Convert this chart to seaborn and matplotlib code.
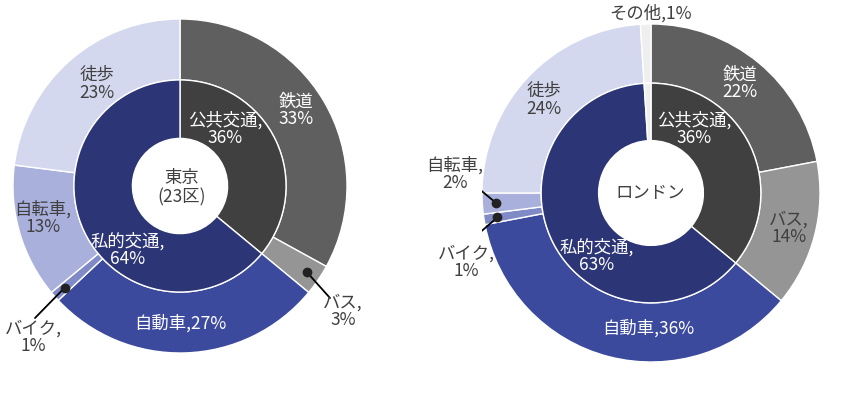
import numpy as np
import matplotlib.pyplot as plt
import seaborn as sns

sns.set_style('white')
plt.rcParams['font.family'] = ['Noto Sans CJK JP', 'DejaVu Sans']

# 東京(23区) の交通手段分担率
tokyo_inner_labels = ['公共交通', '私的交通']
tokyo_inner_values = [36, 64]
tokyo_outer_labels = ['鉄道', 'バス', '自動車', 'バイク', '自転車', '徒歩']
tokyo_outer_values = [33, 3, 27, 1, 13, 23]

# ロンドン
london_inner_labels = ['公共交通', '私的交通', 'その他']
london_inner_values = [36, 63, 1]
london_outer_labels = ['鉄道', 'バス', '自動車', 'バイク', '自転車', '徒歩', 'その他']
london_outer_values = [22, 14, 36, 1, 2, 24, 1]

colors = {
    '公共交通': '#404040', '私的交通': '#2c3576',
    '鉄道': '#5f5f5f', 'バス': '#959595', '自動車': '#3c4a9e',
    'バイク': '#7f8ac6', '自転車': '#a9b0dc', '徒歩': '#d4d8ee',
    'その他': '#efefef',
}
dark_text = '#404040'
white_labels = {'公共交通', '私的交通', '鉄道', '自動車'}
label_fmt = {'鉄道': '{}\n{}%', '徒歩': '{}\n{}%', '自動車': '{},{}%', 'その他': '{},{}%'}
FS = 12.5


def fmt(name, val):
    return label_fmt.get(name, '{},\n{}%').format(name, val)


def draw_city(ax, center, R, inner_r, inner_w, outer_w,
              inner_labels, inner_values, outer_labels, outer_values,
              title, label_px, leaders):
    cx, cy = center

    def px(x, y):
        return (x - cx) / R, (cy - y) / R

    wedges, _ = ax.pie(outer_values, radius=1.0, startangle=90, counterclock=False,
                       colors=[colors[n] for n in outer_labels],
                       wedgeprops=dict(width=outer_w, edgecolor='white', linewidth=1.0))
    ax.pie(inner_values, radius=inner_r, startangle=90, counterclock=False,
           colors=[colors[n] for n in inner_labels],
           wedgeprops=dict(width=inner_w, edgecolor='white', linewidth=1.0))

    # data labels (the inner その他 sliver has no label of its own)
    items = list(zip(outer_labels, outer_values)) + \
        [(n, v) for n, v in zip(inner_labels, inner_values) if n != 'その他']
    for name, val in items:
        if name not in label_px:
            continue
        x, y = px(*label_px[name])
        c = 'white' if name in white_labels else dark_text
        ax.text(x, y, fmt(name, val), ha='center', va='center', fontsize=FS,
                color=c, linespacing=0.95)

    # leader lines for small slices
    for name, end in leaders.items():
        w = wedges[outer_labels.index(name)]
        ang = np.deg2rad((w.theta1 + w.theta2) / 2)
        dx, dy = 0.92 * np.cos(ang), 0.92 * np.sin(ang)
        ex, ey = px(*end)
        ax.plot([dx, ex], [dy, ey], color='black', lw=1.3, solid_capstyle='round')
        ax.plot(dx, dy, 'o', color='#222222', ms=6)

    x, y = px(*label_px['center'])
    ax.text(x, y, title, ha='center', va='center', fontsize=FS, color=dark_text,
            linespacing=1.1)
    ax.set_xlim(-1, 1)
    ax.set_ylim(-1, 1)
    ax.set_aspect('equal')
    ax.axis('off')


fig = plt.figure(figsize=(8.54, 3.94), dpi=100)
W, H = 854, 394

# 東京
tc, tR = (180, 186), 167
ax1 = fig.add_axes([(tc[0] - tR) / W, (H - tc[1] - tR) / H, 2 * tR / W, 2 * tR / H])
draw_city(ax1, tc, tR, 0.635, 0.35, 0.365,
          tokyo_inner_labels, tokyo_inner_values, tokyo_outer_labels, tokyo_outer_values,
          '東京\n(23区)',
          {'鉄道': (296, 110), 'バス': (343, 311), '自動車': (180, 323),
           'バイク': (33, 337), '自転車': (43, 218), '徒歩': (97, 84),
           '公共交通': (225, 129), '私的交通': (128, 250), 'center': (182, 188)},
          {'バス': (330, 298), 'バイク': (35, 318)})

# ロンドン
lc, lR = (651, 193), 169
ax2 = fig.add_axes([(lc[0] - lR) / W, (H - lc[1] - lR) / H, 2 * lR / W, 2 * lR / H])
draw_city(ax2, lc, lR, 0.65, 0.34, 0.35,
          london_inner_labels, london_inner_values, london_outer_labels, london_outer_values,
          'ロンドン',
          {'鉄道': (740, 83), 'バス': (789, 228), '自動車': (648, 328),
           'バイク': (466, 262), '自転車': (455, 174), '徒歩': (544, 100),
           'その他': (650, 13), '公共交通': (694, 129), '私的交通': (597, 256),
           'center': (650, 193)},
          {'自転車': (472, 183), 'バイク': (469, 242)})

fig.savefig('out.png', dpi=100)
